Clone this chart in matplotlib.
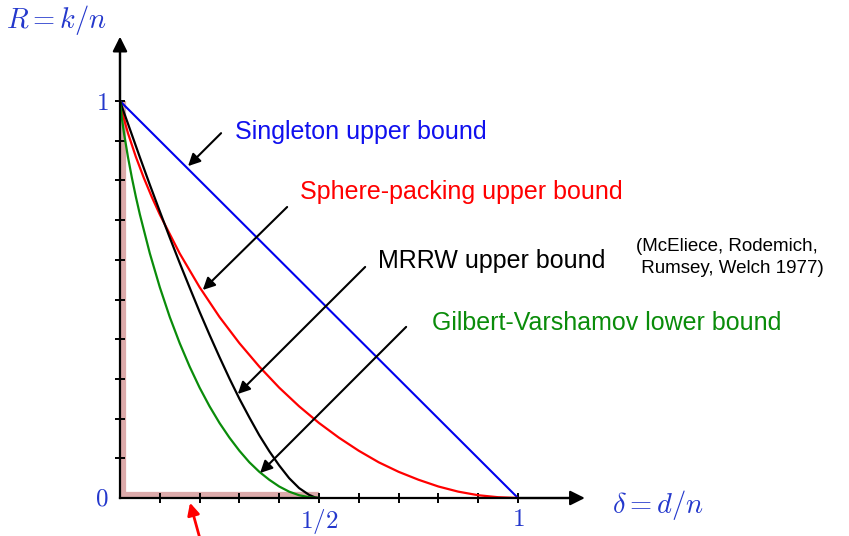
import numpy as np
import matplotlib
matplotlib.use("Agg")
import matplotlib.pyplot as plt
import matplotlib.transforms as mtransforms

plt.rcParams['mathtext.fontset'] = 'cm'
plt.rcParams['font.family'] = ['Liberation Sans', 'DejaVu Sans']

# bounds on the rate R = k/n as a function of relative distance delta = d/n
singleton_d = [0.0, 1.0]
singleton_r = [1.0, 0.0]

sphere_d = [0.0, 0.01, 0.02, 0.04, 0.06, 0.08, 0.1, 0.15, 0.2, 0.25, 0.3, 0.35, 0.4,
            0.45, 0.5, 0.55, 0.6, 0.65, 0.7, 0.75, 0.8, 0.85, 0.9, 0.95, 1.0]
sphere_r = [1.0, 0.955, 0.919, 0.859, 0.806, 0.758, 0.714, 0.616, 0.531, 0.456, 0.390, 0.331, 0.278,
            0.231, 0.189, 0.152, 0.119, 0.090, 0.066, 0.046, 0.029, 0.016, 0.007, 0.002, 0.0]

mrrw_d = [0.0, 0.01, 0.02, 0.05, 0.075, 0.1, 0.125, 0.15, 0.175, 0.2, 0.225, 0.25, 0.275, 0.3,
          0.325, 0.35, 0.375, 0.4, 0.425, 0.45, 0.475, 0.49, 0.5]
mrrw_r = [1.0, 0.971, 0.943, 0.858, 0.789, 0.722, 0.656, 0.592, 0.530, 0.469, 0.411, 0.355, 0.301, 0.250,
          0.203, 0.158, 0.118, 0.082, 0.050, 0.025, 0.008, 0.0015, 0.0]

gv_d = [0.0, 0.005, 0.01, 0.02, 0.03, 0.04, 0.05, 0.075, 0.1, 0.125, 0.15, 0.175, 0.2, 0.225, 0.25,
        0.275, 0.3, 0.325, 0.35, 0.375, 0.4, 0.425, 0.45, 0.475, 0.5]
gv_r = [1.0, 0.955, 0.919, 0.859, 0.806, 0.758, 0.714, 0.616, 0.531, 0.456, 0.390, 0.331, 0.278, 0.231, 0.189,
        0.152, 0.119, 0.090, 0.066, 0.046, 0.029, 0.016, 0.007, 0.002, 0.0]

xticks = [0.1, 0.2, 0.3, 0.4, 0.5, 0.6, 0.7, 0.8, 0.9, 1.0]
xlabels = ['', '', '', '', '$1/2$', '', '', '', '', '$1$']
yticks = [0.1, 0.2, 0.3, 0.4, 0.5, 0.6, 0.7, 0.8, 0.9, 1.0]
ylabels = ['', '', '', '', '', '', '', '', '', '$1$']

BLUE_TXT = '#2438cc'
GREEN = '#0a8c0a'

fig = plt.figure(figsize=(8.49, 5.36), dpi=100)
ax = fig.add_axes([0, 0, 1, 1])
ax.set_xlim(-0.3015, 1.8317)
ax.set_ylim(-0.0957, 1.2544)

for s in ['top', 'right']:
    ax.spines[s].set_visible(False)
ax.spines['left'].set_position(('data', 0))
ax.spines['bottom'].set_position(('data', 0))
ax.spines['left'].set_bounds(0, 1.14)
ax.spines['bottom'].set_bounds(0, 1.15)
for s in ['left', 'bottom']:
    ax.spines[s].set_linewidth(1.6)
    ax.spines[s].set_zorder(4)

ax.set_xticks(xticks, xlabels)
ax.set_yticks(yticks, ylabels)
ax.tick_params(direction='inout', length=7, width=1.4, labelsize=18,
               labelcolor=BLUE_TXT)
ax.tick_params(axis='x', pad=3)
ax.tick_params(axis='y', pad=5)
ax.text(-0.03, 0, '$0$', color=BLUE_TXT, fontsize=18, ha='right', va='center')

# axis arrow heads
arr = dict(arrowstyle='-|>', color='k', lw=1.6, mutation_scale=22, shrinkA=0, shrinkB=0)
ax.annotate('', xy=(1.168, 0), xytext=(1.0, 0), arrowprops=arr, zorder=5)
ax.annotate('', xy=(0, 1.162), xytext=(0, 1.0), arrowprops=arr, zorder=5)

# pink highlight along trivial codes
off_x = mtransforms.ScaledTranslation(3.5 / 100, 0, fig.dpi_scale_trans)
off_y = mtransforms.ScaledTranslation(0, 3.5 / 100, fig.dpi_scale_trans)
ax.plot([0, 0], [0, 1], color='#dcaaaa', lw=4.5, solid_capstyle='butt',
        transform=ax.transData + off_x, zorder=1)
ax.plot([0, 0.5], [0, 0], color='#dcaaaa', lw=4.5, solid_capstyle='butt',
        transform=ax.transData + off_y, zorder=1)

ax.plot(singleton_d, singleton_r, color='#0000ee', lw=1.5, zorder=3)
ax.plot(sphere_d, sphere_r, color='#ff0000', lw=1.6, zorder=3)
ax.plot(mrrw_d, mrrw_r, color='k', lw=1.6, zorder=3)
ax.plot(gv_d, gv_r, color=GREEN, lw=1.6, zorder=3)

ax.text(-0.16, 1.205, '$R = k/n$', color=BLUE_TXT, fontsize=20.5, ha='center', va='center')
ax.text(1.352, -0.018, r'$\delta = d/n$', color=BLUE_TXT, fontsize=20.5, ha='center', va='center')

lbl = dict(fontsize=18, va='center', ha='left')
ax.text(0.289, 0.922, 'Singleton upper bound', color='#1010ee', **lbl)
ax.text(0.452, 0.771, 'Sphere-packing upper bound', color='#ff0000', **lbl)
ax.text(0.648, 0.598, 'MRRW upper bound', color='k', **lbl)
ax.text(0.784, 0.440, 'Gilbert-Varshamov lower bound', color=GREEN, **lbl)
ax.text(1.296, 0.605, '(McEliece, Rodemich,\n Rumsey, Welch 1977)', color='k',
        fontsize=13.5, va='center', ha='left', linespacing=1.4)

pointer = dict(arrowstyle='-|>', color='k', lw=1.5, mutation_scale=18, shrinkA=0, shrinkB=0)
ax.annotate('', xy=(0.171, 0.836), xytext=(0.254, 0.919), arrowprops=pointer, zorder=6)
ax.annotate('', xy=(0.208, 0.524), xytext=(0.420, 0.733), arrowprops=pointer, zorder=6)
ax.annotate('', xy=(0.296, 0.262), xytext=(0.616, 0.582), arrowprops=pointer, zorder=6)
ax.annotate('', xy=(0.352, 0.063), xytext=(0.719, 0.431), arrowprops=pointer, zorder=6)

red_ptr = dict(arrowstyle='-|>', color='#ff0000', lw=2, mutation_scale=18, shrinkA=0, shrinkB=0)
ax.annotate('', xy=(0.176, -0.012), xytext=(0.203, -0.11), arrowprops=red_ptr,
            annotation_clip=False, zorder=6)

fig.savefig('out.png', dpi=100)
